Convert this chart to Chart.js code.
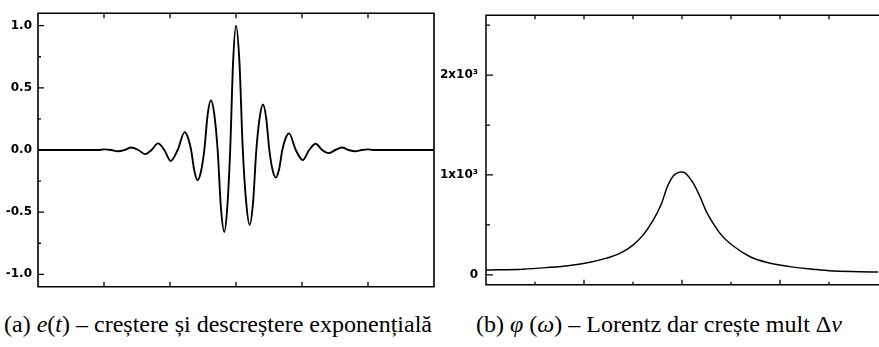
<!DOCTYPE html>
<html><head><meta charset="utf-8">
<script src="https://cdn.jsdelivr.net/npm/chart.js@4.4.0/dist/chart.umd.min.js"></script>
<style>
html,body{margin:0;padding:0;background:#fff;width:879px;height:347px;overflow:hidden;}
#wa{position:absolute;left:0;top:0;width:440px;height:300px;}
#wb{position:absolute;left:440px;top:0;width:439px;height:300px;}
.cap{position:absolute;top:311px;font-family:"Liberation Serif","Times New Roman",serif;font-size:23px;line-height:28px;color:#000;white-space:nowrap;transform-origin:0 50%;}
.cap i{font-style:italic;}
</style></head><body>
<div id="wa"><canvas id="ca" width="440" height="300"></canvas></div>
<div id="wb"><canvas id="cb" width="439" height="300"></canvas></div>
<div class="cap" id="capA">(a) <i>e</i>(<i>t</i>) – creștere și descreștere exponențială</div>
<div class="cap" id="capB">(b) <i>φ</i> (<i>ω</i>) – Lorentz dar crește mult Δ<i>ν</i></div>
<script>
// ---- panel (a): e(t) ----
const tA = [-3.0, -2.1, -1.99, -1.89, -1.79, -1.69, -1.586, -1.48, -1.379, -1.28, -1.182, -1.086, -0.99, -0.884, -0.778, -0.729, -0.68, -0.63, -0.581, -0.53, -0.48, -0.43, -0.379, -0.328, -0.278, -0.228, -0.177, -0.133, -0.088, -0.044, 0, 0.052, 0.103, 0.155, 0.207, 0.258, 0.308, 0.358, 0.409, 0.457, 0.505, 0.553, 0.601, 0.652, 0.702, 0.752, 0.803, 0.906, 1.01, 1.108, 1.207, 1.305, 1.404, 1.505, 1.606, 1.707, 1.808, 1.904, 2.0, 2.1, 3.0];
const eA = [0, 0, 0.005, 0, -0.010, 0, 0.020, 0, -0.033, 0, 0.053, 0, -0.088, 0, 0.144, 0.102, 0, -0.171, -0.242, -0.171, 0, 0.283, 0.400, 0.283, 0, -0.466, -0.659, -0.466, 0, 0.707, 1.0, 0.707, 0, -0.425, -0.601, -0.425, 0, 0.259, 0.366, 0.259, 0, -0.157, -0.222, -0.157, 0, 0.095, 0.134, 0, -0.081, 0, 0.050, 0, -0.025, 0, 0.020, 0, -0.010, 0, 0.005, 0, 0];
const yTicksA = [-1.0, -0.5, 0, 0.5, 1.0];
const yLabelsA = ["-1.0", "-0.5", "0.0", "0.5", "1.0"];
const yMinorA = [-0.75, -0.25, 0.25, 0.75];
const xTicksA = [-2, -1, 0, 1, 2];

// ---- panel (b): phi(omega) ----
const wB = [-4.0, -3.24, -2.77, -2.29, -1.88, -1.54, -1.27, -1.0, -0.80, -0.59, -0.42, -0.29, -0.18, -0.08, -0.01, 0.06, 0.22, 0.36, 0.50, 0.63, 0.80, 1.04, 1.38, 1.72, 2.20, 2.67, 3.01, 3.63, 4.0];
const phiB = [48, 56, 72, 94, 126, 167, 214, 298, 395, 545, 712, 895, 990, 1024, 1030, 1022, 925, 790, 630, 520, 400, 291, 183, 125, 82, 56, 40, 31, 28];
const yTicksB = [0, 1000, 2000];
const yLabelsB = ["0", "1x10³", "2x10³"];
const yMinorB = [500, 1500, 2500];
const xMajorB = [-2, 0, 2];
const xMinorB = [-3, -1, 1, 3];

const framePlugin = {
  id: 'frame',
  afterDraw(chart, args, o) {
    const ctx = chart.ctx, a = chart.chartArea, sx = chart.scales.x, sy = chart.scales.y;
    ctx.save();
    ctx.strokeStyle = '#000';
    ctx.lineWidth = o.lw;
    ctx.beginPath();
    const r = o.openRight ? chart.width : a.right;
    ctx.moveTo(r, a.top); ctx.lineTo(a.left, a.top); ctx.lineTo(a.left, a.bottom); ctx.lineTo(r, a.bottom);
    if (!o.openRight) ctx.closePath();
    ctx.stroke();
    ctx.lineWidth = 1.3;
    ctx.beginPath();
    for (const t of o.yt) {
      const y = sy.getPixelForValue(t[0]);
      ctx.moveTo(a.left, y); ctx.lineTo(a.left + t[1], y);
    }
    for (const t of o.xb) {
      const x = sx.getPixelForValue(t[0]);
      ctx.moveTo(x, a.bottom); ctx.lineTo(x, a.bottom - t[1]);
    }
    for (const t of o.xt) {
      const x = sx.getPixelForValue(t[0]);
      ctx.moveTo(x, a.top); ctx.lineTo(x, a.top + t[1]);
    }
    ctx.stroke();
    ctx.restore();
  }
};

function makeChart(id, xs, ys, xr, yr, yTicks, yLabels, axisW, pad, gap, lw, frameOpts) {
  return new Chart(document.getElementById(id), {
    type: 'scatter',
    data: { datasets: [{
      data: xs.map((x, i) => ({ x: x, y: ys[i] })),
      showLine: true, borderColor: '#000', borderWidth: lw,
      pointRadius: 0, cubicInterpolationMode: 'monotone', fill: false
    }]},
    options: {
      responsive: false, animation: false, events: [],
      layout: { padding: pad },
      plugins: { legend: { display: false }, tooltip: { enabled: false }, frame: frameOpts },
      scales: {
        x: { type: 'linear', display: false, min: xr[0], max: xr[1] },
        y: {
          type: 'linear', min: yr[0], max: yr[1],
          afterFit: s => { s.width = axisW; },
          afterBuildTicks: s => { s.ticks = yTicks.map(v => ({ value: v })); },
          grid: { display: false, drawTicks: false },
          border: { display: false },
          ticks: {
            autoSkip: false, padding: gap, color: '#000',
            font: { family: 'DejaVu Sans', weight: 'bold', size: 12 },
            callback: v => { const i = yTicks.indexOf(v); return i >= 0 ? yLabels[i] : ''; }
          }
        }
      }
    },
    plugins: [framePlugin]
  });
}

makeChart('ca', tA, eA, [-3, 3], [-1.1, 1.1], yTicksA, yLabelsA, 38,
  { left: 0, top: 7, right: 6, bottom: 3 }, 6, 1.9, {
    lw: 1.6, openRight: false,
    yt: yTicksA.map(v => [v, 6]).concat(yMinorA.map(v => [v, 3])),
    xb: xTicksA.map(v => [v, 5]),
    xt: xTicksA.map(v => [v, 5])
  });

makeChart('cb', wB, phiB, [-4, 4], [-100, 2600], yTicksB, yLabelsB, 46,
  { left: 0, top: 9, right: 1, bottom: 3 }, 8, 1.5, {
    lw: 1.5, openRight: true,
    yt: yTicksB.map(v => [v, 7]).concat(yMinorB.map(v => [v, 4])),
    xb: xMajorB.map(v => [v, 5]).concat(xMinorB.map(v => [v, 3])),
    xt: xMajorB.map(v => [v, 4]).concat(xMinorB.map(v => [v, 4]))
  });

function fitCap(id, left, width) {
  const el = document.getElementById(id);
  const w = el.getBoundingClientRect().width;
  el.style.left = left + 'px';
  el.style.transform = 'scaleX(' + (width / w) + ')';
}
fitCap('capA', 4, 428);
fitCap('capB', 476, 366);
</script>
</body></html>
